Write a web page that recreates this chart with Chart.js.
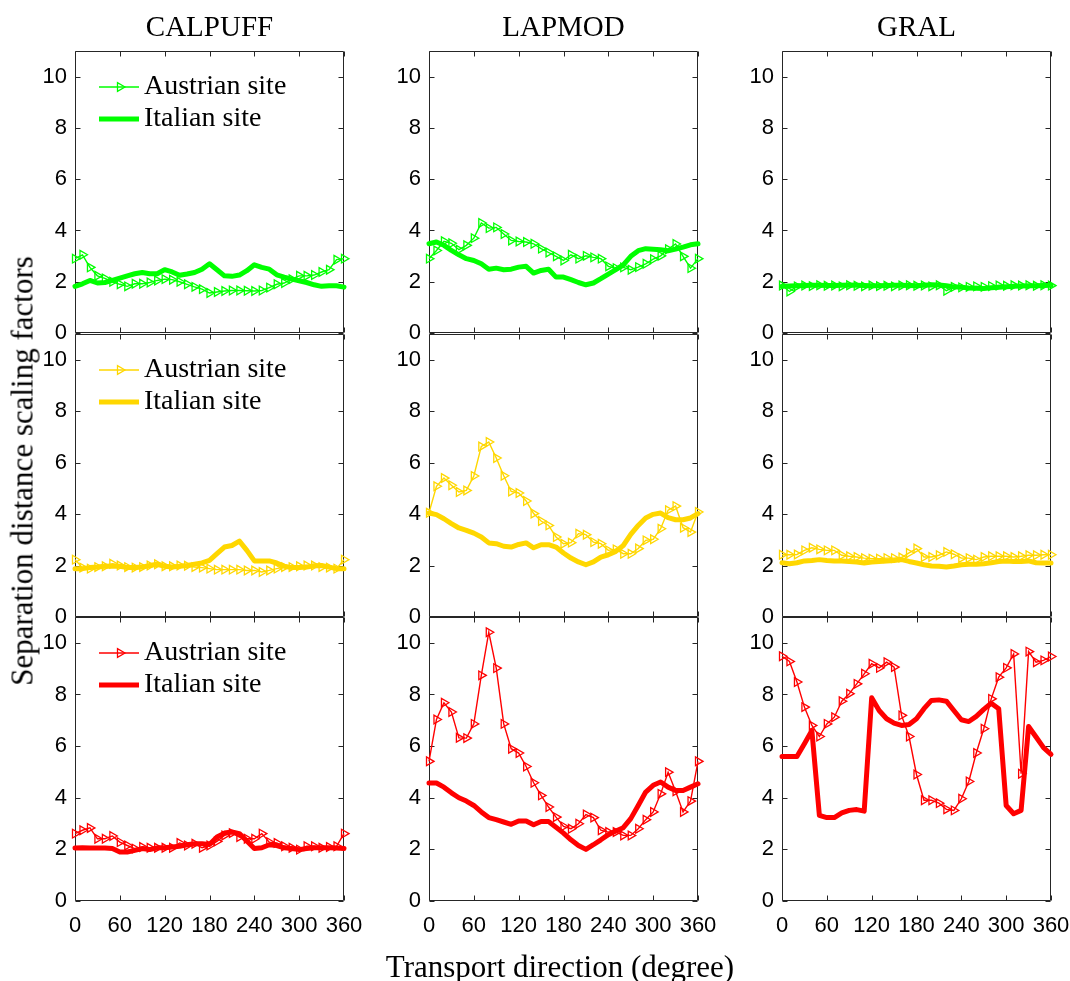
<!DOCTYPE html>
<html>
<head>
<meta charset="utf-8">
<script src="https://cdn.jsdelivr.net/npm/chart.js@4.4.0/dist/chart.umd.min.js"></script>
<style>
body { margin: 0; background: #fff; }
#fig { position: relative; width: 1070px; height: 981px; overflow: hidden; font-family: "Liberation Serif", "Times New Roman", serif; }
#fig canvas { position: absolute; }
.lbl { position: absolute; line-height: 1; white-space: nowrap; color: #000; }
</style>
</head>
<body>
<div id="fig"></div>
<script>
// transport direction (degree), one value every 10 degrees
var directions = [0,10,20,30,40,50,60,70,80,90,100,110,120,130,140,150,160,170,180,190,200,210,220,230,240,250,260,270,280,290,300,310,320,330,340,350,360];
var xTicks = [0,60,120,180,240,300,360];
var yTicks = [0,2,4,6,8,10];
var models = ['CALPUFF','LAPMOD','GRAL'];
var siteNames = ['Austrian site','Italian site'];
var rowColors = ['#00ff00','#ffd700','#ff0000'];

// green row
var calpuffGreenAT = [2.90,3.05,2.56,2.23,2.13,2.00,1.90,1.82,1.92,1.92,1.97,2.05,2.10,2.08,2.00,1.90,1.80,1.71,1.56,1.60,1.64,1.66,1.66,1.65,1.64,1.66,1.77,1.90,1.95,2.10,2.23,2.23,2.26,2.38,2.47,2.86,2.90];
var calpuffGreenIT = [1.82,1.92,2.05,1.95,1.97,2.05,2.14,2.23,2.31,2.36,2.31,2.31,2.47,2.38,2.25,2.30,2.36,2.49,2.70,2.47,2.23,2.21,2.26,2.43,2.66,2.56,2.49,2.27,2.18,2.10,2.04,1.97,1.88,1.82,1.84,1.84,1.79];
var lapmodGreenAT = [2.90,3.22,3.58,3.50,3.25,3.42,3.70,4.29,4.09,4.12,3.86,3.61,3.57,3.55,3.48,3.29,3.14,2.99,2.83,3.05,2.90,3.01,2.95,2.90,2.60,2.53,2.56,2.47,2.57,2.70,2.88,3.01,3.27,3.47,2.99,2.53,2.90];
var lapmodGreenIT = [3.48,3.55,3.42,3.22,3.05,2.90,2.83,2.70,2.49,2.53,2.47,2.49,2.57,2.60,2.34,2.44,2.49,2.18,2.18,2.08,1.97,1.88,1.95,2.12,2.30,2.47,2.66,2.99,3.21,3.29,3.27,3.25,3.21,3.27,3.35,3.44,3.48];
var gralGreenAT = [1.85,1.62,1.82,1.85,1.83,1.86,1.84,1.85,1.82,1.86,1.84,1.82,1.85,1.83,1.84,1.82,1.85,1.86,1.84,1.85,1.82,1.86,1.65,1.80,1.78,1.80,1.82,1.80,1.83,1.85,1.84,1.86,1.85,1.86,1.84,1.86,1.85];
var gralGreenIT = [1.82,1.83,1.84,1.85,1.86,1.86,1.85,1.85,1.86,1.87,1.86,1.85,1.84,1.84,1.85,1.86,1.86,1.85,1.84,1.86,1.88,1.87,1.84,1.80,1.78,1.76,1.75,1.74,1.76,1.78,1.80,1.82,1.83,1.84,1.84,1.85,1.86];

// yellow row
var calpuffYellowAT = [2.23,1.92,1.88,1.94,1.97,2.07,2.00,1.94,1.92,1.94,2.00,2.05,1.97,1.97,2.00,1.99,1.94,1.92,1.88,1.84,1.84,1.84,1.84,1.81,1.81,1.75,1.81,1.88,1.94,1.94,1.97,2.00,2.00,1.94,1.92,1.88,2.23];
var calpuffYellowIT = [1.88,1.88,1.92,1.94,1.97,1.98,1.97,1.92,1.92,1.94,2.00,2.05,1.97,1.94,1.97,2.00,2.05,2.10,2.20,2.46,2.72,2.78,2.95,2.59,2.18,2.18,2.18,2.10,1.97,1.92,1.92,1.94,1.99,2.00,1.94,1.88,1.88];
var lapmodYellowAT = [4.05,5.08,5.40,5.12,4.86,4.92,5.48,6.63,6.80,6.18,5.49,4.88,4.82,4.51,4.02,3.73,3.56,3.11,2.85,2.89,3.24,3.20,2.91,2.85,2.59,2.63,2.46,2.46,2.66,2.98,3.02,3.43,4.15,4.31,3.47,3.30,4.08];
var lapmodYellowIT = [4.04,3.98,3.82,3.63,3.46,3.37,3.26,3.11,2.88,2.85,2.75,2.72,2.82,2.88,2.69,2.81,2.81,2.72,2.49,2.29,2.14,2.03,2.14,2.33,2.42,2.55,2.78,3.21,3.56,3.85,3.99,4.04,3.86,3.78,3.78,3.85,4.02];
var gralYellowAT = [2.42,2.42,2.43,2.59,2.69,2.63,2.59,2.59,2.40,2.36,2.33,2.29,2.27,2.27,2.29,2.29,2.31,2.49,2.66,2.33,2.33,2.40,2.53,2.44,2.29,2.29,2.23,2.33,2.36,2.36,2.36,2.33,2.36,2.40,2.40,2.42,2.42];
var gralYellowIT = [2.11,2.07,2.11,2.18,2.20,2.23,2.20,2.18,2.18,2.16,2.14,2.10,2.14,2.16,2.18,2.20,2.23,2.16,2.10,2.03,1.98,1.97,1.94,1.98,2.03,2.05,2.05,2.07,2.11,2.16,2.18,2.16,2.16,2.18,2.11,2.10,2.10];

// red row
var calpuffRedAT = [2.61,2.74,2.83,2.41,2.41,2.52,2.28,2.15,2.03,2.09,2.06,2.06,2.06,2.06,2.25,2.15,2.22,2.06,2.15,2.31,2.54,2.63,2.48,2.41,2.41,2.61,2.28,2.25,2.12,2.06,1.99,2.12,2.12,2.06,2.09,2.12,2.61];
var calpuffRedIT = [2.05,2.06,2.05,2.05,2.05,2.03,1.90,1.90,1.96,2.03,1.99,2.06,2.06,2.09,2.12,2.18,2.22,2.22,2.19,2.48,2.63,2.67,2.61,2.32,2.03,2.06,2.18,2.15,2.06,2.03,1.99,2.03,2.06,2.06,2.06,2.05,2.03];
var lapmodRedAT = [5.41,7.03,7.68,7.32,6.32,6.31,6.86,8.74,10.41,9.02,6.86,5.90,5.73,5.21,4.58,4.09,3.64,3.25,2.89,2.80,2.99,3.35,3.23,2.74,2.67,2.67,2.54,2.54,2.80,3.15,3.45,4.15,4.99,4.25,3.45,3.87,5.41];
var lapmodRedIT = [4.57,4.57,4.41,4.19,4.00,3.87,3.70,3.45,3.23,3.15,3.06,2.97,3.10,3.10,2.95,3.08,3.08,2.86,2.63,2.37,2.15,2.00,2.18,2.37,2.57,2.71,2.84,3.19,3.70,4.22,4.48,4.61,4.41,4.28,4.28,4.41,4.54];
var gralRedAT = [9.48,9.28,8.48,7.51,6.80,6.37,6.86,7.12,7.74,8.03,8.41,8.80,9.19,9.03,9.25,9.06,7.19,6.37,4.90,3.90,3.90,3.79,3.55,3.51,3.96,4.63,5.73,6.67,7.83,8.67,9.03,9.57,4.93,9.66,9.25,9.32,9.47];
var gralRedIT = [5.60,5.60,5.60,6.09,6.60,3.32,3.23,3.23,3.41,3.51,3.54,3.48,7.87,7.38,7.06,6.89,6.80,6.84,7.06,7.45,7.77,7.79,7.74,7.38,7.02,6.95,7.15,7.42,7.66,7.45,3.70,3.38,3.51,6.76,6.35,5.94,5.68];

var panels = [
  [[calpuffGreenAT, calpuffGreenIT], [lapmodGreenAT, lapmodGreenIT], [gralGreenAT, gralGreenIT]],
  [[calpuffYellowAT, calpuffYellowIT], [lapmodYellowAT, lapmodYellowIT], [gralYellowAT, gralYellowIT]],
  [[calpuffRedAT, calpuffRedIT], [lapmodRedAT, lapmodRedIT], [gralRedAT, gralRedIT]]
];

var colLeft = [75, 429, 782];
var plotW = 269;
var rowTop = [51, 334, 617];
var rowH = [282, 283, 284];
var padL = 70, padT = 10, padR = 25, padB = 45;

// box round the axes with inward ticks, like matlab
var framePlugin = {
  id: 'frame',
  beforeDatasetsDraw: function(chart) {
    var ctx = chart.ctx, a = chart.chartArea, sx = chart.scales.x, sy = chart.scales.y;
    var L = Math.round(a.left) + 0.5, R = Math.round(a.right) - 0.5;
    var T = Math.round(a.top) + 0.5, B = Math.round(a.bottom) - 0.5;
    ctx.save();
    ctx.strokeStyle = '#262626';
    ctx.lineWidth = 1;
    ctx.beginPath();
    ctx.rect(L, T, R - L, B - T);
    xTicks.forEach(function(v) {
      var p = Math.round(sx.getPixelForValue(v)) + 0.5;
      ctx.moveTo(p, B); ctx.lineTo(p, B - 5);
      ctx.moveTo(p, T); ctx.lineTo(p, T + 5);
    });
    yTicks.forEach(function(v) {
      var p = Math.round(sy.getPixelForValue(v)) + 0.5;
      ctx.moveTo(L, p); ctx.lineTo(L + 5, p);
      ctx.moveTo(R, p); ctx.lineTo(R - 5, p);
    });
    ctx.stroke();
    ctx.restore();
  }
};

var legendPlugin = {
  id: 'siteLegend',
  afterDraw: function(chart, args, opts) {
    if (!opts.show) return;
    var ctx = chart.ctx, a = chart.chartArea;
    ctx.save();
    chart.data.datasets.forEach(function(ds, i) {
      var y = a.top + 36 + i * 32;
      ctx.strokeStyle = ds.borderColor;
      ctx.lineWidth = ds.borderWidth;
      ctx.lineCap = 'butt';
      ctx.beginPath();
      ctx.moveTo(a.left + 24, y);
      ctx.lineTo(a.left + 64, y);
      ctx.stroke();
      if (ds.pointRadius > 0) {
        var r = ds.pointRadius, cx = a.left + 45;
        ctx.lineWidth = ds.pointBorderWidth;
        ctx.beginPath();
        ctx.moveTo(cx + r, y);
        ctx.lineTo(cx - r / 2, y - r * 0.866);
        ctx.lineTo(cx - r / 2, y + r * 0.866);
        ctx.closePath();
        ctx.stroke();
      }
      ctx.fillStyle = '#000';
      ctx.font = '28px "Liberation Serif"';
      ctx.textBaseline = 'alphabetic';
      ctx.fillText(ds.label, a.left + 69, y + 7);
    });
    ctx.restore();
  }
};

function toPoints(vals) {
  return directions.map(function(d, i) { return { x: d, y: vals[i] }; });
}

var fig = document.getElementById('fig');

for (var r = 0; r < 3; r++) {
  for (var c = 0; c < 3; c++) {
    var col = rowColors[r];
    var cv = document.createElement('canvas');
    cv.width = padL + plotW + padR;
    cv.height = padT + rowH[r] + padB;
    cv.style.left = (colLeft[c] - padL) + 'px';
    cv.style.top = (rowTop[r] - padT) + 'px';
    fig.appendChild(cv);

    new Chart(cv, {
      type: 'line',
      data: {
        datasets: [
          {
            label: siteNames[0],
            data: toPoints(panels[r][c][0]),
            borderColor: col,
            backgroundColor: col,
            borderWidth: 1.4,
            pointStyle: 'triangle',
            pointRotation: 90,
            pointRadius: 5,
            pointBorderColor: col,
            pointBackgroundColor: 'rgba(255,255,255,0)',
            pointBorderWidth: 1.3,
            clip: false,
            order: 1
          },
          {
            label: siteNames[1],
            data: toPoints(panels[r][c][1]),
            borderColor: col,
            backgroundColor: col,
            borderWidth: 5,
            pointRadius: 0,
            borderJoinStyle: 'round',
            borderCapStyle: 'round',
            clip: false,
            order: 0
          }
        ]
      },
      options: {
        responsive: false,
        animation: false,
        events: [],
        layout: { padding: { left: 0, top: padT, right: padR, bottom: 0 } },
        plugins: {
          legend: { display: false },
          tooltip: { enabled: false },
          siteLegend: { show: c === 0 }
        },
        scales: {
          x: {
            type: 'linear',
            min: 0,
            max: 360,
            grid: { display: false, drawTicks: false },
            border: { display: false },
            afterBuildTicks: function(s) { s.ticks = xTicks.map(function(v) { return { value: v }; }); },
            afterFit: function(s) { s.height = padB; s.paddingLeft = 0; s.paddingRight = 0; },
            ticks: {
              display: r === 2,
              autoSkip: false,
              maxRotation: 0,
              padding: 12,
              color: '#000',
              font: { family: 'Liberation Sans', size: 22 }
            }
          },
          y: {
            min: 0,
            max: 11,
            grid: { display: false, drawTicks: false },
            border: { display: false },
            afterBuildTicks: function(s) { s.ticks = yTicks.map(function(v) { return { value: v }; }); },
            afterFit: function(s) { s.width = padL; s.paddingTop = 0; s.paddingBottom = 0; },
            ticks: {
              padding: 8,
              color: '#000',
              font: { family: 'Liberation Sans', size: 22 }
            }
          }
        }
      },
      plugins: [framePlugin, legendPlugin]
    });
  }
}

// column titles and axis labels
models.forEach(function(m, c) {
  var d = document.createElement('div');
  d.className = 'lbl';
  d.textContent = m;
  d.style.fontSize = '29px';
  d.style.left = (colLeft[c] + plotW / 2) + 'px';
  d.style.top = '12px';
  d.style.transform = 'translateX(-50%)';
  fig.appendChild(d);
});

var xl = document.createElement('div');
xl.className = 'lbl';
xl.textContent = 'Transport direction (degree)';
xl.style.fontSize = '31px';
xl.style.left = '560px';
xl.style.top = '951px';
xl.style.transform = 'translateX(-50%)';
fig.appendChild(xl);

var yl = document.createElement('div');
yl.className = 'lbl';
yl.textContent = 'Separation distance scaling factors';
yl.style.fontSize = '31px';
yl.style.left = '22px';
yl.style.top = '471px';
yl.style.transform = 'translate(-50%, -50%) rotate(-90deg)';
fig.appendChild(yl);
</script>
</body>
</html>
